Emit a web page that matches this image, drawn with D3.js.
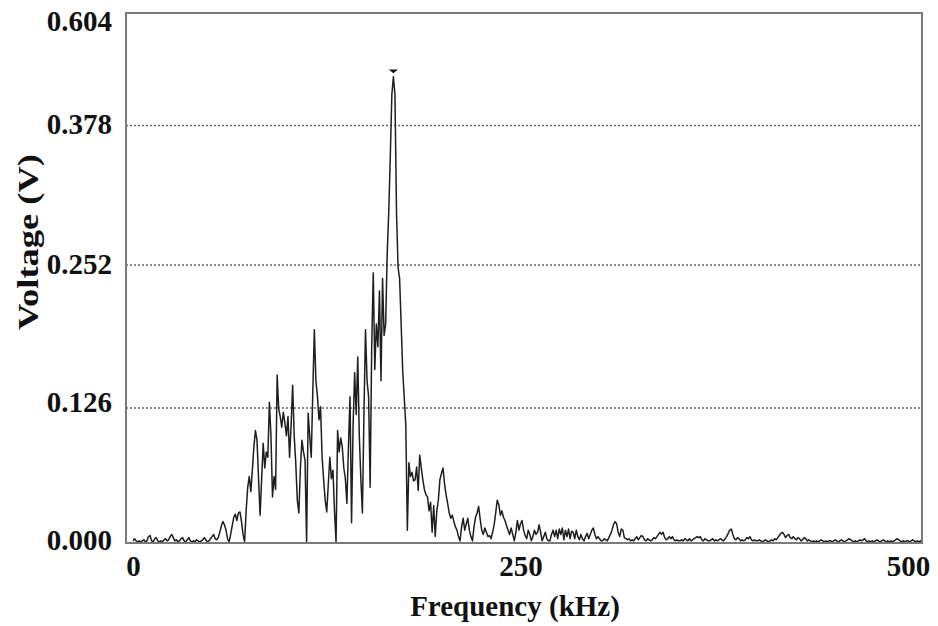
<!DOCTYPE html>
<html>
<head>
<meta charset="utf-8">
<script src="https://cdn.jsdelivr.net/npm/d3@7"></script>
<style>
  html, body { margin: 0; padding: 0; background: #fff; }
  svg { display: block; }
  text { font-family: "Liberation Serif", "Times New Roman", serif; font-weight: bold; fill: #111; }
</style>
</head>
<body>
<svg id="chart" width="938" height="626"></svg>
<script>
// Spectrum sampled every 1 kHz, starting at 0 kHz.
const freqStepKHz = 1;
const voltages = [
  0.002,0.004,0.002,0.001,0.002,0.001,0.002,0.003,0.001,0.002,
  0.006,0.007,0.002,0.001,0.004,0.005,0.002,0.001,0.002,0.001,
  0.003,0.004,0.002,0.003,0.006,0.008,0.005,0.002,0.003,0.001,
  0.002,0.004,0.005,0.002,0.001,0.003,0.005,0.002,0.001,0.002,
  0.001,0.003,0.002,0.001,0.002,0.003,0.005,0.003,0.001,0.002,
  0.004,0.006,0.008,0.004,0.003,0.005,0.010,0.016,0.020,0.017,
  0.012,0.004,0.001,0.008,0.016,0.024,0.027,0.021,0.028,0.029,
  0.020,0.008,0.001,0.030,0.052,0.062,0.048,0.068,0.090,0.105,
  0.096,0.060,0.026,0.060,0.093,0.070,0.085,0.080,0.131,0.100,
  0.043,0.062,0.050,0.155,0.125,0.118,0.108,0.122,0.112,0.100,
  0.118,0.080,0.110,0.146,0.100,0.075,0.040,0.028,0.070,0.096,
  0.085,0.077,0.001,0.121,0.100,0.080,0.140,0.195,0.150,0.136,
  0.115,0.127,0.080,0.059,0.040,0.029,0.055,0.080,0.060,0.068,
  0.030,0.001,0.105,0.085,0.098,0.090,0.070,0.060,0.037,0.090,
  0.136,0.019,0.110,0.157,0.120,0.171,0.100,0.060,0.028,0.120,
  0.195,0.150,0.136,0.052,0.180,0.245,0.160,0.200,0.180,0.229,
  0.150,0.240,0.190,0.200,0.262,0.300,0.350,0.440,0.476,0.440,
  0.300,0.250,0.240,0.200,0.159,0.135,0.110,0.012,0.075,0.062,
  0.066,0.058,0.059,0.071,0.049,0.082,0.070,0.059,0.050,0.045,
  0.043,0.030,0.038,0.010,0.035,0.006,0.030,0.040,0.059,0.065,
  0.070,0.055,0.045,0.037,0.028,0.023,0.026,0.020,0.015,0.012,
  0.006,0.002,0.015,0.023,0.012,0.018,0.023,0.012,0.006,0.002,
  0.015,0.024,0.028,0.034,0.022,0.012,0.008,0.014,0.010,0.006,
  0.007,0.004,0.010,0.017,0.028,0.040,0.036,0.026,0.030,0.024,
  0.021,0.016,0.012,0.008,0.014,0.008,0.002,0.010,0.021,0.012,
  0.018,0.021,0.012,0.007,0.004,0.012,0.008,0.002,0.006,0.012,
  0.008,0.010,0.017,0.010,0.002,0.006,0.010,0.004,0.002,0.002,
  0.008,0.012,0.006,0.012,0.004,0.013,0.008,0.014,0.003,0.012,
  0.006,0.013,0.004,0.011,0.010,0.004,0.012,0.006,0.003,0.008,
  0.004,0.002,0.006,0.009,0.004,0.008,0.012,0.014,0.008,0.004,
  0.006,0.004,0.002,0.002,0.004,0.003,0.002,0.005,0.008,0.012,
  0.017,0.020,0.018,0.010,0.006,0.013,0.012,0.005,0.004,0.003,
  0.004,0.002,0.003,0.002,0.004,0.006,0.003,0.005,0.007,0.006,
  0.003,0.002,0.004,0.003,0.002,0.003,0.005,0.004,0.006,0.008,
  0.010,0.008,0.010,0.005,0.003,0.004,0.006,0.004,0.006,0.003,
  0.002,0.003,0.002,0.002,0.003,0.002,0.004,0.003,0.002,0.004,
  0.002,0.003,0.004,0.005,0.006,0.005,0.006,0.003,0.002,0.004,
  0.003,0.002,0.002,0.003,0.004,0.002,0.003,0.002,0.003,0.004,
  0.003,0.002,0.004,0.006,0.009,0.012,0.013,0.008,0.004,0.003,
  0.005,0.004,0.002,0.003,0.002,0.003,0.005,0.004,0.006,0.003,
  0.002,0.003,0.002,0.002,0.003,0.002,0.001,0.002,0.003,0.002,
  0.001,0.002,0.003,0.002,0.004,0.003,0.005,0.007,0.009,0.010,
  0.008,0.005,0.007,0.008,0.005,0.004,0.006,0.004,0.003,0.005,
  0.004,0.002,0.003,0.005,0.004,0.002,0.003,0.002,0.001,0.002,
  0.001,0.002,0.001,0.002,0.003,0.002,0.001,0.002,0.001,0.002,
  0.002,0.001,0.002,0.003,0.002,0.001,0.002,0.003,0.002,0.001,
  0.002,0.003,0.004,0.003,0.002,0.001,0.002,0.001,0.002,0.003,
  0.002,0.003,0.004,0.002,0.001,0.002,0.001,0.002,0.001,0.002,
  0.003,0.002,0.001,0.002,0.003,0.002,0.001,0.002,0.001,0.002,
  0.001,0.002,0.003,0.004,0.003,0.002,0.001,0.002,0.001,0.002,
  0.002,0.001,0.002,0.003,0.002,0.001,0.002,0.001,0.002,0.001
];
const xTickValues = [0, 250, 500];
const yTickValues = [0, 0.126, 0.252, 0.378, 0.604];
const yTickLabels = ["0.000", "0.126", "0.252", "0.378", "0.604"];
const gridValues = [0.126, 0.252, 0.378];
const xTitle = "Frequency (kHz)";
const yTitle = "Voltage (V)";

const svg = d3.select("#chart");
const frame = { left: 126, top: 13, right: 922, bottom: 543 };

const x = d3.scaleLinear().domain([0, 500]).range([133, 908]);
// Piecewise vertical scale following the instrument's labelled divisions
const y = d3.scaleLinear()
  .domain(yTickValues)
  .range([543, 408, 265, 125.5, 13]);

const points = voltages.map((v, i) => ({ f: i * freqStepKHz, v }));

// Dotted horizontal grid
svg.append("g")
  .selectAll("line")
  .data(gridValues)
  .join("line")
  .attr("x1", frame.left)
  .attr("x2", frame.right)
  .attr("y1", d => y(d))
  .attr("y2", d => y(d))
  .attr("stroke", "#666")
  .attr("stroke-width", 1.3)
  .attr("stroke-dasharray", "2,2");

// Spectrum trace
svg.append("clipPath").attr("id", "plotClip")
  .append("rect")
  .attr("x", frame.left).attr("y", frame.top)
  .attr("width", frame.right - frame.left).attr("height", frame.bottom - frame.top);

const line = d3.line().x(d => x(d.f)).y(d => y(d.v));
svg.append("path")
  .datum(points)
  .attr("clip-path", "url(#plotClip)")
  .attr("fill", "none")
  .attr("stroke", "#1e1e1e")
  .attr("stroke-width", 1.5)
  .attr("stroke-linejoin", "round")
  .attr("d", line);

// Peak cursor marker
const peak = points.reduce((a, b) => (b.v > a.v ? b : a));
svg.append("path")
  .attr("d", d3.symbol(d3.symbolTriangle, 22)())
  .attr("transform", `translate(${x(peak.f)},${y(peak.v) - 6}) rotate(180) scale(1.3,0.6)`)
  .attr("fill", "#111");

// Plot frame
svg.append("rect")
  .attr("x", frame.left).attr("y", frame.top)
  .attr("width", frame.right - frame.left).attr("height", frame.bottom - frame.top)
  .attr("fill", "none")
  .attr("stroke", "#7a7a7a")
  .attr("stroke-width", 2);

// Y axis labels (top label kept inside the frame height)
const yLabelDy = { 0: "0.22em", 0.126: "0.12em", 0.252: "0.3em", 0.378: "0.28em", 0.604: "0.6em" };
const yAxis = d3.axisLeft(y)
  .tickValues(yTickValues)
  .tickFormat((d, i) => yTickLabels[i])
  .tickSize(0)
  .tickPadding(14);
const gy = svg.append("g").attr("transform", `translate(${frame.left},0)`).call(yAxis);
gy.select(".domain").remove();
gy.selectAll("text")
  .attr("font-size", 29)
  .attr("font-family", null)
  .attr("fill", null)
  .attr("dy", d => yLabelDy[d]);

// X axis labels
const xAxis = d3.axisBottom(x)
  .tickValues(xTickValues)
  .tickFormat(d3.format("d"))
  .tickSize(0)
  .tickPadding(12);
const gx = svg.append("g").attr("transform", `translate(0,${frame.bottom})`).call(xAxis);
gx.select(".domain").remove();
gx.selectAll("text")
  .attr("font-size", 29)
  .attr("font-family", null)
  .attr("fill", null);

// Axis titles
svg.append("text")
  .attr("x", 515).attr("y", 616)
  .attr("text-anchor", "middle")
  .attr("font-size", 29)
  .text(xTitle);

svg.append("text")
  .attr("transform", "translate(38,242) rotate(-90)")
  .attr("text-anchor", "middle")
  .attr("font-size", 30)
  .attr("textLength", 176)
  .attr("lengthAdjust", "spacingAndGlyphs")
  .text(yTitle);
</script>
</body>
</html>
